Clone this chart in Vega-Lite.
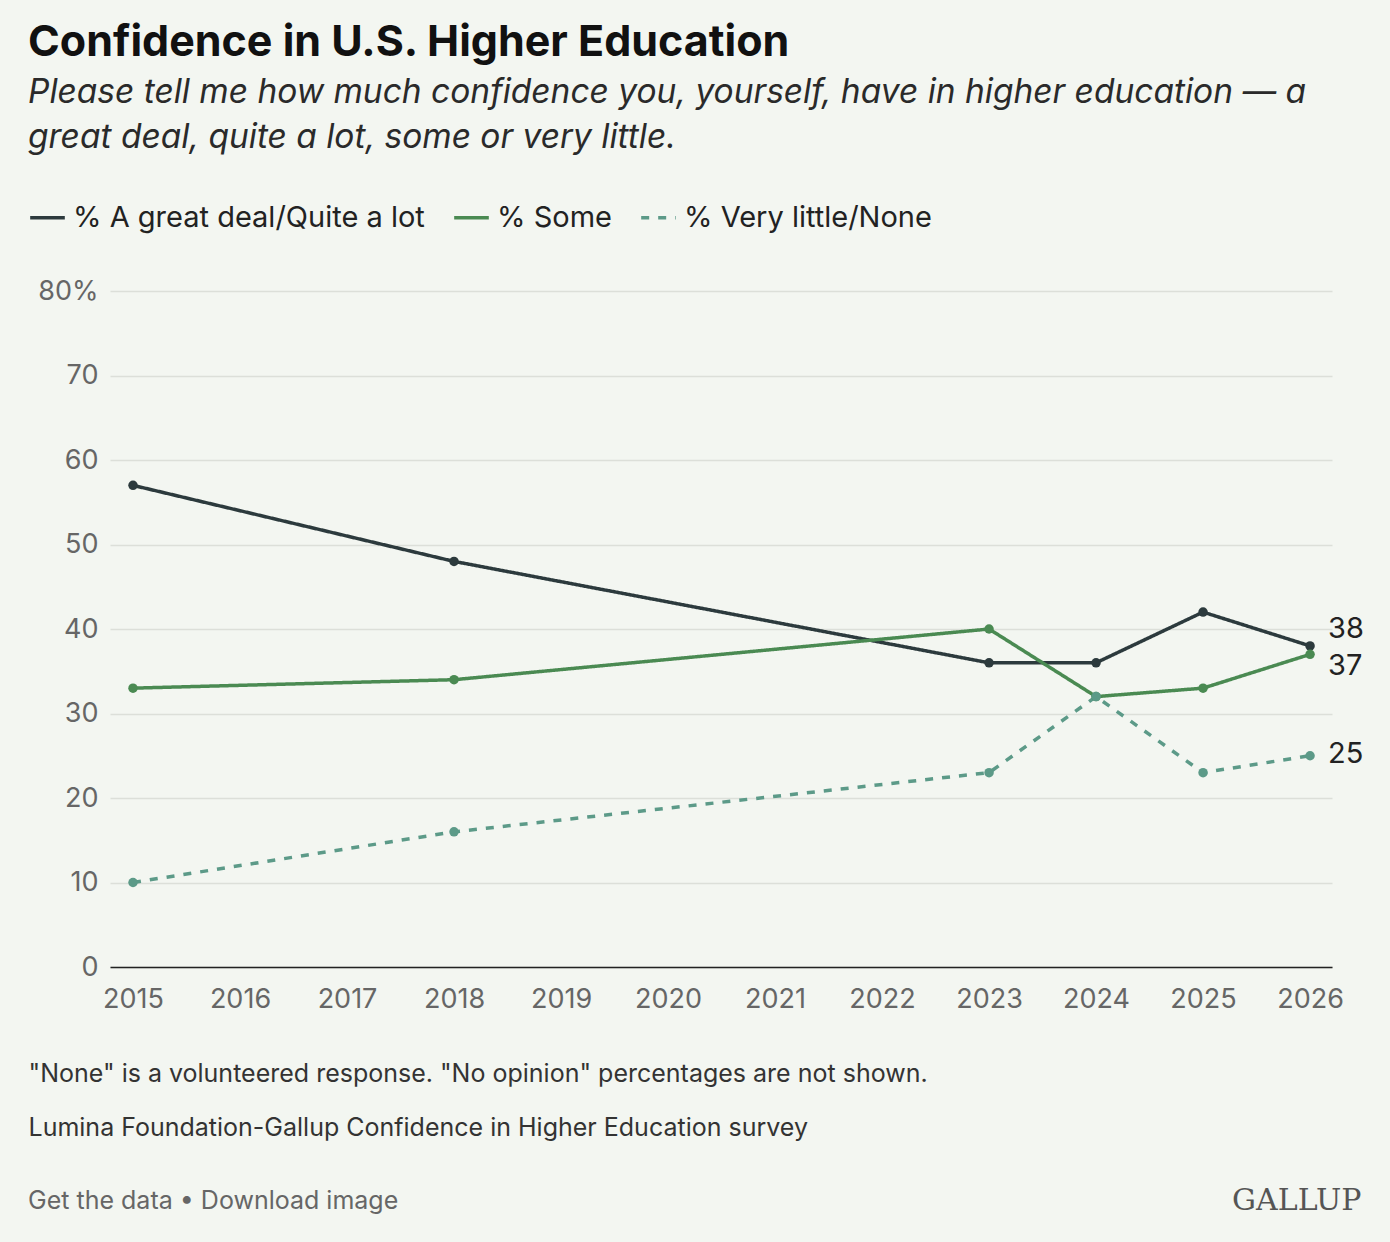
{
  "$schema": "https://vega.github.io/schema/vega-lite/v6.json",
  "background": "#f3f6f1",
  "autosize": "none",
  "padding": {"left": 110, "top": 291, "right": 58, "bottom": 275},
  "width": 1222,
  "height": 676,
  "title": {
    "text": "Confidence in U.S. Higher Education",
    "subtitle": ["Please tell me how much confidence you, yourself, have in higher education — a", "great deal, quite a lot, some or very little."],
    "anchor": "start", "frame": "group", "dx": -82, "offset": 44,
    "font": "Inter", "fontSize": 43, "fontWeight": "bold", "color": "#111111",
    "subtitleFont": "Inter", "subtitleFontSize": 33.5, "subtitleFontStyle": "italic",
    "subtitleColor": "#2a2a2a", "subtitleLineHeight": 45, "subtitlePadding": 12
  },
  "config": {"view": {"stroke": null}, "font": "Inter"},
  "data": {"values": [
    {"year": 2015, "series": "% A great deal/Quite a lot", "pct": 57},
    {"year": 2018, "series": "% A great deal/Quite a lot", "pct": 48},
    {"year": 2023, "series": "% A great deal/Quite a lot", "pct": 36},
    {"year": 2024, "series": "% A great deal/Quite a lot", "pct": 36},
    {"year": 2025, "series": "% A great deal/Quite a lot", "pct": 42},
    {"year": 2026, "series": "% A great deal/Quite a lot", "pct": 38},
    {"year": 2015, "series": "% Some", "pct": 33},
    {"year": 2018, "series": "% Some", "pct": 34},
    {"year": 2023, "series": "% Some", "pct": 40},
    {"year": 2024, "series": "% Some", "pct": 32},
    {"year": 2025, "series": "% Some", "pct": 33},
    {"year": 2026, "series": "% Some", "pct": 37},
    {"year": 2015, "series": "% Very little/None", "pct": 10},
    {"year": 2018, "series": "% Very little/None", "pct": 16},
    {"year": 2023, "series": "% Very little/None", "pct": 23},
    {"year": 2024, "series": "% Very little/None", "pct": 32},
    {"year": 2025, "series": "% Very little/None", "pct": 23},
    {"year": 2026, "series": "% Very little/None", "pct": 25}
  ]},
  "encoding": {
    "x": {"field": "year", "type": "quantitative",
      "scale": {"domain": [2014.785, 2026.205], "nice": false, "zero": false},
      "axis": {"values": [2015,2016,2017,2018,2019,2020,2021,2022,2023,2024,2025,2026],
        "format": "d", "grid": false, "ticks": false, "domainColor": "#222222", "domainWidth": 1.5,
        "labelFontSize": 27, "labelColor": "#666666", "labelPadding": 19, "labelFont": "Inter",
        "title": ["\"None\" is a volunteered response. \"No opinion\" percentages are not shown.", "Lumina Foundation-Gallup Confidence in Higher Education survey"],
        "titleAnchor": "start", "titleAlign": "left", "titleX": -82, "titleY": 114, "titleBaseline": "alphabetic",
        "titleFontSize": 25, "titleFontWeight": "normal", "titleColor": "#333333", "titleLineHeight": 54, "titleFont": "Inter"}},
    "y": {"field": "pct", "type": "quantitative",
      "scale": {"domain": [0, 80], "nice": false},
      "axis": {"values": [0,10,20,30,40,50,60,70,80], "labelExpr": "datum.value == 80 ? '80%' : datum.label",
        "domain": false, "ticks": false, "gridColor": "#dcdfd9", "gridWidth": 1.5,
        "labelFontSize": 27, "labelColor": "#666666", "labelPadding": 12, "labelFont": "Inter", "title": null}},
    "color": {"field": "series", "type": "nominal",
      "scale": {"domain": ["% A great deal/Quite a lot", "% Some", "% Very little/None"], "range": ["#2c3a3d", "#4a8a52", "#5c9a88"]},
      "legend": {"orient": "none", "legendX": -82, "legendY": -93, "direction": "horizontal", "title": null,
        "symbolType": "stroke", "symbolStrokeWidth": 3.5, "symbolSize": 1200, "labelFontSize": 29, "labelLimit": 0,
        "labelColor": "#222222", "labelFont": "Inter", "columnPadding": 22, "labelOffset": 6}},
    "strokeDash": {"field": "series", "type": "nominal",
      "scale": {"domain": ["% A great deal/Quite a lot", "% Some", "% Very little/None"], "range": [[1,0],[1,0],[8,9]]},
      "legend": null}
  },
  "layer": [
    {"mark": {"type": "line", "strokeWidth": 3.5}},
    {"mark": {"type": "point", "filled": true, "opacity": 1, "size": 90}, "encoding": {"strokeDash": {"value": [1,0]}}},
    {"transform": [{"filter": "datum.year == 2026 && datum.series == '% A great deal/Quite a lot'"}],
      "mark": {"type": "text", "align": "left", "dx": 18, "dy": -17, "fontSize": 29},
      "encoding": {"text": {"field": "pct"}, "color": {"value": "#222222"}, "strokeDash": {"value": [1,0]}}},
    {"transform": [{"filter": "datum.year == 2026 && datum.series == '% Some'"}],
      "mark": {"type": "text", "align": "left", "dx": 18, "dy": 12, "fontSize": 29},
      "encoding": {"text": {"field": "pct"}, "color": {"value": "#222222"}, "strokeDash": {"value": [1,0]}}},
    {"transform": [{"filter": "datum.year == 2026 && datum.series == '% Very little/None'"}],
      "mark": {"type": "text", "align": "left", "dx": 18, "dy": -2, "fontSize": 29},
      "encoding": {"text": {"field": "pct"}, "color": {"value": "#222222"}, "strokeDash": {"value": [1,0]}}},
    {"data": {"values": [{"year": 2026.48, "pct": -27.7, "t": "GALLUP"}]},
      "mark": {"type": "text", "align": "right", "baseline": "middle", "font": "DejaVu Serif", "fontSize": 30, "clip": false},
      "encoding": {"text": {"field": "t"}, "color": {"value": "#555555"}, "strokeDash": {"value": [1,0]}}},
    {"data": {"values": [{"year": 2014.019, "pct": -27.7, "t": "Get the data • Download image"}]},
      "mark": {"type": "text", "align": "left", "baseline": "middle", "fontSize": 25, "clip": false},
      "encoding": {"text": {"field": "t"}, "color": {"value": "#666666"}, "strokeDash": {"value": [1,0]}}}
  ]
}
